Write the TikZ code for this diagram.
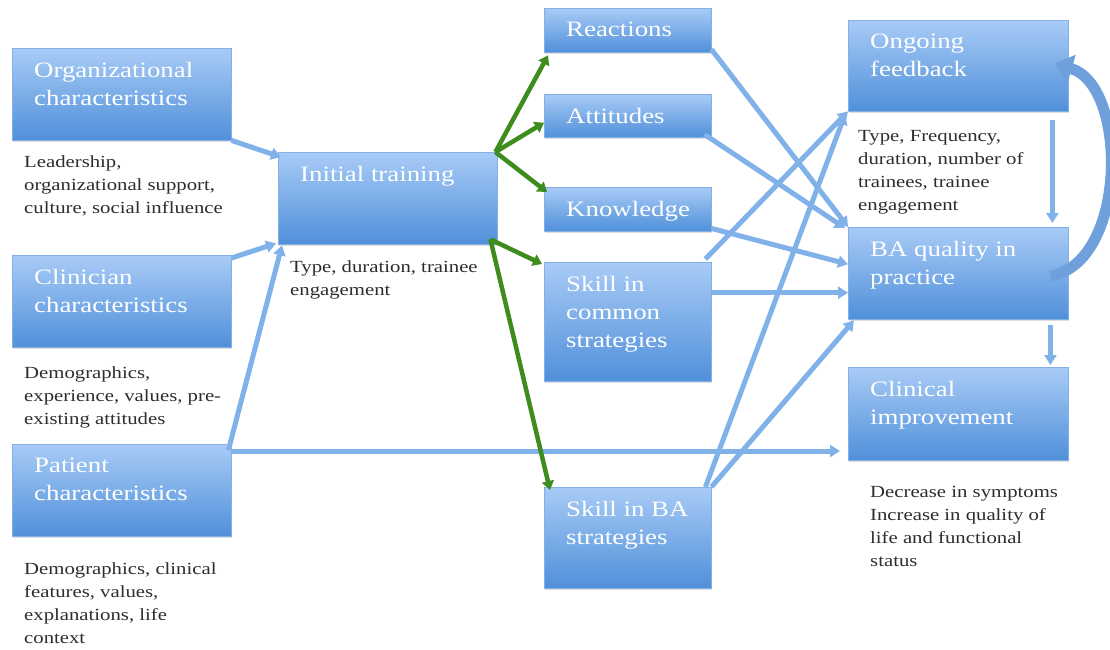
\documentclass[tikz,border=0pt]{standalone}
\usepackage{fontspec}
\setmainfont{Liberation Serif}[FakeStretch=1.22]
\usetikzlibrary{arrows.meta,shadows}

\definecolor{boxtop}{RGB}{168,203,246}
\definecolor{boxbot}{RGB}{80,144,218}
\definecolor{linkblue}{RGB}{128,177,233}
\definecolor{loopblue}{RGB}{112,160,220}
\definecolor{linkgreen}{RGB}{62,140,30}
\definecolor{notegray}{RGB}{45,45,45}

\tikzset{
  box/.style={top color=boxtop, bottom color=boxbot, draw=boxbot!70!white,
    line width=0.4pt, inner sep=0pt, anchor=north west,
    drop shadow={opacity=0.25, shadow xshift=1pt, shadow yshift=-1.5pt}},
  wide/.style={box, minimum width=219pt, minimum height=92pt},
  narrow/.style={box, minimum width=167pt},
  boxtext/.style={anchor=north west, inner sep=0pt, xshift=22pt, yshift=-14pt,
    align=left, text=white, font=\fontsize{22}{28}\selectfont},
  note/.style={anchor=north west, inner sep=0pt, align=left, text=notegray,
    font=\fontsize{17}{23}\selectfont},
  blink/.style={draw=linkblue, line width=5pt, -{Triangle[width=12pt,length=10pt]}},
  glink/.style={draw=linkgreen, line width=4.5pt, -{Triangle[width=12pt,length=9pt]}},
  looplink/.style={draw=loopblue, line width=11pt, -{Triangle[width=28pt,length=18pt]}},
}

\begin{document}
\begin{tikzpicture}[x=1pt,y=-1pt]
\useasboundingbox (0,0) rectangle (1110,649);

% left column
\node[wide, label={[boxtext]north west:Organizational\\characteristics}] (org) at (12,48) {};
\node[wide, label={[boxtext]north west:Clinician\\characteristics}] (cli) at (12,255) {};
\node[wide, label={[boxtext]north west:Patient\\characteristics}] (pat) at (12,444) {};
\node[wide, label={[boxtext]north west:Initial training}] (init) at (278,152) {};

\node[note] (org-note) at (24,155) {Leadership,\\organizational support,\\culture, social influence};
\node[note] (cli-note) at (24,366) {Demographics,\\experience, values, pre-\\existing attitudes};
\node[note] (pat-note) at (24,562) {Demographics, clinical\\features, values,\\explanations, life\\context};
\node[note] (init-note) at (290,260) {Type, duration, trainee\\engagement};

% outcomes of training
\node[narrow, minimum height=44pt, label={[boxtext]north west:Reactions}] (reac) at (544,8) {};
\node[narrow, minimum height=43pt, label={[boxtext]north west:Attitudes}] (att) at (544,94) {};
\node[narrow, minimum height=44pt, label={[boxtext]north west:Knowledge}] (know) at (544,187) {};
\node[narrow, minimum height=119pt, label={[boxtext]north west:Skill in\\common\\strategies}] (sc) at (544,262) {};
\node[narrow, minimum height=101pt, label={[boxtext]north west:Skill in BA\\strategies}] (sba) at (544,487) {};

% right column
\node[wide, minimum width=220pt, minimum height=91pt, label={[boxtext]north west:Ongoing\\feedback}] (og) at (848,20) {};
\node[wide, minimum width=220pt, label={[boxtext]north west:BA quality in\\practice}] (ba) at (848,227) {};
\node[wide, minimum width=220pt, minimum height=93pt, label={[boxtext]north west:Clinical\\improvement}] (ci) at (848,367) {};

\node[note] (og-note) at (858,130) {Type, Frequency,\\duration, number of\\trainees, trainee\\engagement};
\node[note] (ci-note) at (870,486) {Decrease in symptoms\\Increase in quality of\\life and functional\\status};

% blue links
\draw[blink] (org.south east) -- ([xshift=3pt,yshift=-5pt]init.north west);
\draw[blink] ([yshift=-3pt]cli.north east) -- ([xshift=-2pt,yshift=1pt]init.south west);
\draw[blink] ([xshift=-3pt,yshift=-6pt]pat.north east) -- ([xshift=4pt,yshift=-1pt]init.south west);
\draw[blink, shorten >=8pt] ([yshift=-7pt]pat.north east) -- ([yshift=-7pt]pat.north east -| ci.west);
\draw[blink] ([yshift=3pt]reac.south east) -- (ba.north west);
\draw[blink] ([xshift=-7pt,yshift=3pt]att.south east) -- ([xshift=-3pt,yshift=-1pt]ba.north west);
\draw[blink] ([yshift=3pt]know.south east) -- ([yshift=9pt]ba.west);
\draw[blink] ([xshift=-6pt,yshift=3pt]sc.north east) -- (og.south west);
\draw[blink] ([yshift=29pt]sc.east) -- ([yshift=29pt]sc.east -| ba.west);
\draw[blink] ([xshift=-6pt]sba.north east) -- ([xshift=-3pt,yshift=-3pt]og.south west);
\draw[blink] (sba.north east) -- ([xshift=6pt,yshift=-1pt]ba.south west);
\draw[blink] ([xshift=-16pt,yshift=-9pt]og.south east) -- ([xshift=-16pt,yshift=4pt]ba.north east);
\draw[blink] ([xshift=-18pt,yshift=-6pt]ba.south east) -- ([xshift=-18pt,yshift=2pt]ci.north east);
\draw[looplink] ([xshift=-18pt,yshift=-3pt]ba.east) .. controls (1128,262) and (1128,85) .. ([xshift=-14pt,yshift=2pt]og.east);

% green links
\draw[glink] ([xshift=-2pt]init.north east) -- ([xshift=4pt,yshift=-3pt]reac.south west);
\draw[glink] ([xshift=-2pt]init.north east) -- ([yshift=-7pt]att.west);
\draw[glink] ([xshift=-2pt]init.north east) -- ([xshift=3pt,yshift=-5pt]know.north west);
\draw[glink] ([xshift=-7pt,yshift=5pt]init.south east) -- ([xshift=-2pt,yshift=-2pt]sc.north west);
\draw[glink] ([xshift=-7pt,yshift=5pt]init.south east) -- ([xshift=6pt,yshift=-3pt]sba.north west);
\end{tikzpicture}
\end{document}
